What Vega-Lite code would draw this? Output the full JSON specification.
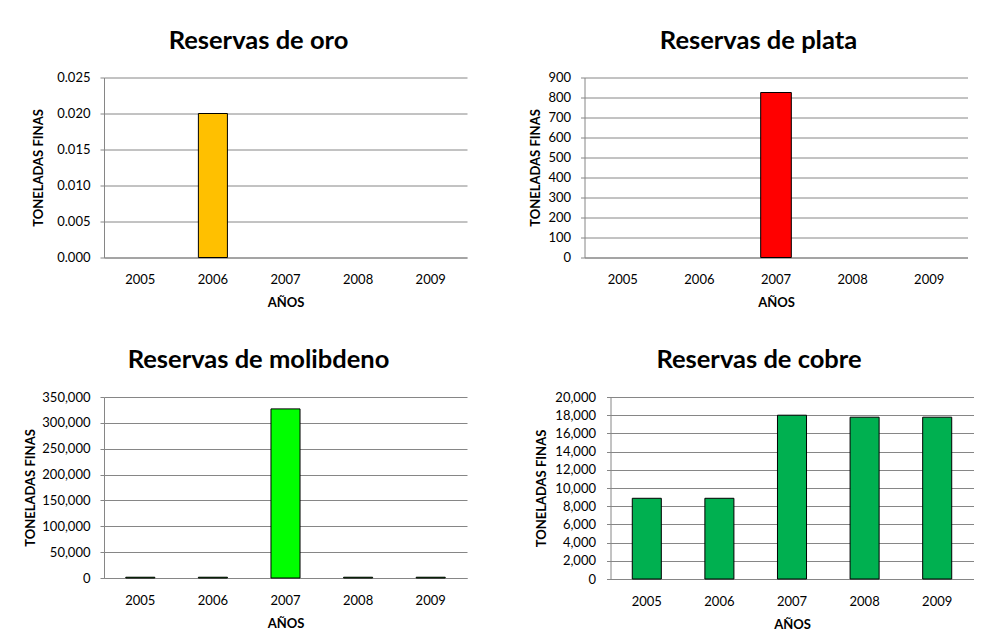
{
  "$schema": "https://vega.github.io/schema/vega-lite/v6.json",
  "background": "white",
  "padding": {"left": 24, "top": 28.5, "right": 5, "bottom": 5},
  "spacing": 38.5,
  "config": {
    "view": {"stroke": null},
    "font": "Lato",
    "axis": {
      "labelFont": "Lato", "labelFontSize": 13, "labelColor": "#000000",
      "titleFont": "Lato", "titleFontSize": 13, "titleFontWeight": "bold", "titleColor": "#000000",
      "gridColor": "#868686", "domainColor": "#868686", "tickColor": "#868686"
    },
    "axisX": {"ticks": false, "tickSize": 0, "labelPadding": 16, "titlePadding": 10, "grid": false, "labelAngle": 0},
    "axisY": {"tickSize": 4, "labelPadding": 10, "grid": true},
    "title": {"font": "Lato", "fontSize": 25.5, "fontWeight": "bold", "color": "#000000", "offset": 17.5, "anchor": "middle"},
    "bar": {"stroke": "#000000", "strokeWidth": 1}
  },
  "vconcat": [
    {
      "spacing": 62.5,
      "hconcat": [
        {
          "title": {"text": "Reservas de oro", "dx": -27},
          "width": 363, "height": 180,
          "data": {"values": [{"anio": "2006", "valor": 0.02}]},
          "mark": {"type": "bar", "color": "#FFC000"},
          "encoding": {
            "x": {"field": "anio", "type": "nominal", "title": "AÑOS",
                  "scale": {"domain": ["2005", "2006", "2007", "2008", "2009"], "paddingInner": 0.6, "paddingOuter": 0.3}},
            "y": {"field": "valor", "type": "quantitative", "title": "TONELADAS FINAS",
                  "scale": {"domain": [0, 0.025], "nice": false},
                  "axis": {"values": [0, 0.005, 0.01, 0.015, 0.02, 0.025], "format": ".3f", "titlePadding": 11.5}}
          }
        },
        {
          "title": {"text": "Reservas de plata", "dx": -17.5},
          "width": 383, "height": 180,
          "data": {"values": [{"anio": "2007", "valor": 825}]},
          "mark": {"type": "bar", "color": "#FF0000"},
          "encoding": {
            "x": {"field": "anio", "type": "nominal", "title": "AÑOS",
                  "scale": {"domain": ["2005", "2006", "2007", "2008", "2009"], "paddingInner": 0.6, "paddingOuter": 0.3}},
            "y": {"field": "valor", "type": "quantitative", "title": "TONELADAS FINAS",
                  "scale": {"domain": [0, 900], "nice": false},
                  "axis": {"values": [0, 100, 200, 300, 400, 500, 600, 700, 800, 900], "format": "d", "titlePadding": 5}}
          }
        }
      ]
    },
    {
      "spacing": 68.5,
      "hconcat": [
        {
          "title": {"text": "Reservas de molibdeno", "dx": -27},
          "width": 363, "height": 181,
          "data": {"values": [
            {"anio": "2005", "valor": 1500},
            {"anio": "2006", "valor": 1500},
            {"anio": "2007", "valor": 327000},
            {"anio": "2008", "valor": 1500},
            {"anio": "2009", "valor": 1500}
          ]},
          "mark": {"type": "bar", "color": "#00FF00"},
          "encoding": {
            "x": {"field": "anio", "type": "nominal", "title": "AÑOS",
                  "scale": {"domain": ["2005", "2006", "2007", "2008", "2009"], "paddingInner": 0.6, "paddingOuter": 0.3}},
            "y": {"field": "valor", "type": "quantitative", "title": "TONELADAS FINAS",
                  "scale": {"domain": [0, 350000], "nice": false},
                  "axis": {"values": [0, 50000, 100000, 150000, 200000, 250000, 300000, 350000], "format": ",d", "titlePadding": 4}}
          }
        },
        {
          "title": {"text": "Reservas de cobre", "dx": -33},
          "width": 363, "height": 182,
          "data": {"values": [
            {"anio": "2005", "valor": 8870},
            {"anio": "2006", "valor": 8870},
            {"anio": "2007", "valor": 18000},
            {"anio": "2008", "valor": 17780},
            {"anio": "2009", "valor": 17780}
          ]},
          "mark": {"type": "bar", "color": "#00B050"},
          "encoding": {
            "x": {"field": "anio", "type": "nominal", "title": "AÑOS",
                  "scale": {"domain": ["2005", "2006", "2007", "2008", "2009"], "paddingInner": 0.6, "paddingOuter": 0.3}},
            "y": {"field": "valor", "type": "quantitative", "title": "TONELADAS FINAS",
                  "scale": {"domain": [0, 20000], "nice": false},
                  "axis": {"values": [0, 2000, 4000, 6000, 8000, 10000, 12000, 14000, 16000, 18000, 20000], "format": ",d", "labelPadding": 11, "titlePadding": 6}}
          }
        }
      ]
    }
  ]
}
